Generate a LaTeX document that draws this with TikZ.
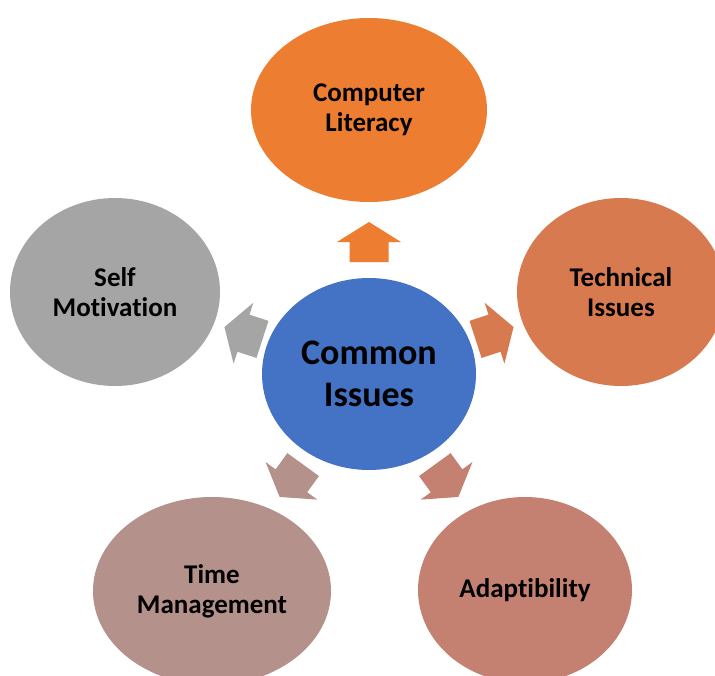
\documentclass[tikz,border=0pt]{standalone}
\usepackage{fontspec}
\setmainfont{Carlito}[Ligatures=NoCommon]
\usetikzlibrary{shapes.geometric}

\definecolor{hubcol}{HTML}{4472C4}
\definecolor{litcol}{HTML}{ED7D31}
\definecolor{techcol}{HTML}{D87A50}
\definecolor{adaptcol}{HTML}{C48070}
\definecolor{timecol}{HTML}{B4918A}
\definecolor{selfcol}{HTML}{A5A5A5}

\begin{document}
\begin{tikzpicture}[
    x=1pt, y=1pt,
    bubble/.style={ellipse, inner sep=0pt, align=center, text=black,
                   font=\fontsize{27}{30}\selectfont\bfseries}
  ]
    \useasboundingbox (0,0) rectangle (715,-675);
    \node[bubble, fill=hubcol, minimum width=214pt, minimum height=192pt,
          font=\fontsize{36}{42}\selectfont\bfseries] (hub) at (369,-374) {Common\\Issues};
    \node[bubble, fill=litcol, minimum width=236pt, minimum height=184pt] (literacy) at (369,-110) {Computer\\Literacy};
    \node[bubble, fill=techcol, minimum width=208pt, minimum height=188pt] (technical) at (621,-292) {Technical\\Issues};
    \node[bubble, fill=adaptcol, minimum width=214pt, minimum height=186pt] (adapt) at (525,-590) {Adaptibility};
    \node[bubble, fill=timecol, minimum width=238pt, minimum height=188pt] (timemgmt) at (212,-591) {Time\\Management};
    \node[bubble, fill=selfcol, minimum width=210pt, minimum height=188pt] (selfmot) at (115,-292) {Self\\Motivation};
    % block arrows pointing out from the hub
    \foreach \ang/\col in {90/litcol, 18/techcol, -54/adaptcol, -126/timecol, 162/selfcol}
      \fill[\col, shift={(hub.center)}, rotate=\ang]
        (112,-19.5) -- (132,-19.5) -- (132,-32) -- (152,0) -- (132,32) -- (132,19.5) -- (112,19.5) -- cycle;
\end{tikzpicture}
\end{document}
